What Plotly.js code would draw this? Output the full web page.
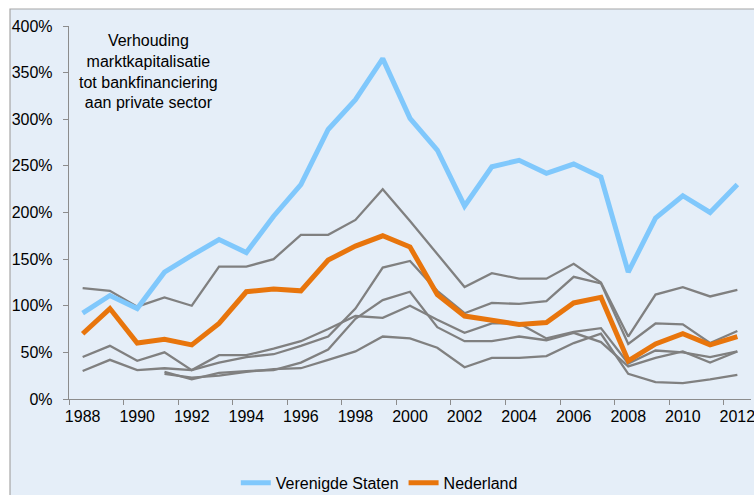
<!DOCTYPE html>
<html>
<head>
<meta charset="utf-8">
<script src="https://cdn.plot.ly/plotly-3.0.1.min.js"></script>
<style>
    html, body { margin: 0; padding: 0; background: #ffffff; }
    #graph { width: 754px; height: 495px; }
</style>
</head>
<body>
<div id="graph"></div>
<script>
let years = [1988, 1989, 1990, 1991, 1992, 1993, 1994, 1995, 1996, 1997, 1998, 1999, 2000,
             2001, 2002, 2003, 2004, 2005, 2006, 2007, 2008, 2009, 2010, 2011, 2012];

let yearLabels = ['1988', '1990', '1992', '1994', '1996', '1998', '2000', '2002', '2004', '2006', '2008', '2010', '2012'];

// Verenigde Staten en Nederland (in %)
let us = [92, 111, 97, 136, 154, 171, 157, 196, 230, 289, 321, 365, 301,
          267, 207, 249, 256, 242, 252, 238, 136, 194, 218, 200, 230];
let nl = [70, 97, 60, 64, 58, 81, 115, 118, 116, 149, 164, 175, 163,
          112, 89, 85, 80, 82, 103, 109, 41, 59, 70, 58, 67];

// overige landen (grijs)
let grey1 = [119, 116, 99, 109, 100, 142, 142, 150, 176, 176, 192, 225, 191,
             156, 120, 135, 129, 129, 145, 125, 67, 112, 120, 110, 117];
let grey2 = [45, 57, 41, 50, 31, 47, 47, 54, 62, 75, 89, 87, 100,
             85, 71, 81, 81, 65, 72, 76, 38, 52, 50, 45, 51];
let grey3 = [30, 42, 31, 33, 31, 39, 45, 48, 57, 67, 97, 141, 148,
             116, 92, 103, 102, 105, 131, 124, 59, 81, 80, 60, 73];
let grey4 = [null, null, null, 29, 21, 28, 30, 31, 39, 53, 86, 106, 115,
             77, 62, 62, 67, 63, 71, 61, 35, 44, 51, 39, 51];
let grey5 = [null, null, null, 27, 23, 25, 29, 32, 33, 42, 51, 67, 65,
             55, 34, 44, 44, 46, 60, 70, 27, 18, 17, 21, 26];

let greys = [grey1, grey2, grey3, grey4, grey5];

let font = 'Liberation Sans, Arial, sans-serif';

let data = [];

greys.forEach(function(g) {
    data.push({
        x: years,
        y: g,
        mode: 'lines',
        line: {color: '#808080', width: 2.3},
        showlegend: false,
        hoverinfo: 'skip'
    });
});

data.push({
    x: years,
    y: nl,
    mode: 'lines',
    name: 'Nederland',
    legendrank: 2,
    line: {color: '#e8750c', width: 5}
});

data.push({
    x: years,
    y: us,
    mode: 'lines',
    name: 'Verenigde Staten',
    legendrank: 1,
    line: {color: '#80c8fc', width: 5}
});

let layout = {
    width: 754,
    height: 495,
    margin: {l: 69, r: 3, t: 26, b: 96, autoexpand: false},
    paper_bgcolor: '#ffffff',
    plot_bgcolor: 'rgba(0,0,0,0)',
    font: {family: font, size: 16, color: '#000000'},
    shapes: [{
        type: 'rect',
        xref: 'paper', yref: 'paper',
        x0: -0.0865, x1: 1.1,
        y0: -0.4, y1: 1.0456,
        fillcolor: '#e5eef8',
        line: {color: '#a6a6a6', width: 1.2},
        layer: 'below'
    }],
    xaxis: {
        range: [1987.5, 2012.5],
        tickmode: 'array',
        tickvals: yearLabels.map(Number),
        ticktext: yearLabels,
        ticks: '',
        ticklabelstandoff: 3,
        ticklabeloverflow: 'allow',
        automargin: false,
        showgrid: false,
        zeroline: false,
        showline: true,
        linecolor: '#8c8c8c',
        linewidth: 1.2,
        minor: {tick0: 1987.5, dtick: 2, ticks: 'outside', ticklen: 5, tickcolor: '#8c8c8c', showgrid: false},
        tickfont: {family: font, size: 16}
    },
    yaxis: {
        range: [0, 400],
        dtick: 50,
        ticksuffix: '%',
        ticks: 'outside',
        ticklen: 5,
        tickcolor: '#8c8c8c',
        ticklabelstandoff: 7,
        automargin: false,
        showgrid: false,
        zeroline: false,
        showline: true,
        linecolor: '#8c8c8c',
        linewidth: 1.2,
        tickfont: {family: font, size: 16}
    },
    annotations: [{
        xref: 'paper', yref: 'paper',
        x: 0.1166, y: 0.988,
        xanchor: 'center', yanchor: 'top',
        showarrow: false,
        align: 'center',
        text: 'Verhouding<br>marktkapitalisatie<br>tot bankfinanciering<br>aan private sector',
        font: {family: font, size: 16, color: '#000000'}
    }],
    legend: {
        orientation: 'h',
        x: 0.455, xanchor: 'center',
        y: -0.225, yanchor: 'middle',
        bgcolor: 'rgba(0,0,0,0)',
        itemwidth: 30,
        font: {family: font, size: 16}
    }
};

Plotly.newPlot('graph', data, layout, {displayModeBar: false, staticPlot: true});
</script>
</body>
</html>
